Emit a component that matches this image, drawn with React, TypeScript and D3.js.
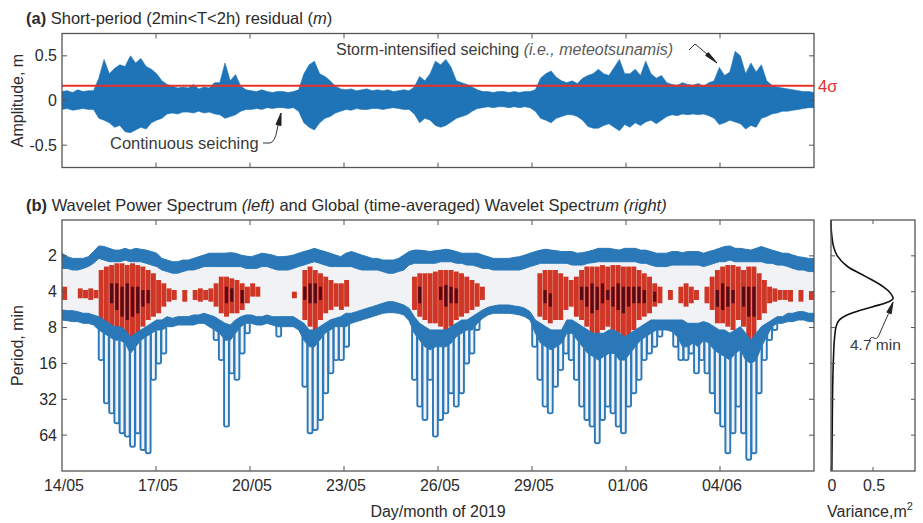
import React from "react";
import * as d3 from "d3";

// ---------- DATA ----------
const DAYS = 24; // 14/05/2019 00:00 -> 07/06/2019 00:00, 4-hour bins (6 per day)
const xTickDays = [0, 3, 6, 9, 12, 15, 18, 21];
const xTickLabels = ["14/05", "17/05", "20/05", "23/05", "26/05", "29/05", "01/06", "04/06"];
const ampTicks = [-0.5, 0, 0.5];
const ampTickLabels = ["-0.5", "0", "0.5"];
const periodTicks = [2, 4, 8, 16, 32, 64];
const varTicks = [0, 0.5];
const varTickLabels = ["0", "0.5"];
const sigma4 = 0.165;

// (a) short-period residual envelope per 4-h bin (m)
const ampMax = [
  0.10, 0.11, 0.09, 0.12, 0.10, 0.11,
  0.11, 0.25, 0.46, 0.30, 0.36, 0.40,
  0.38, 0.50, 0.42, 0.47, 0.38, 0.35,
  0.30, 0.22, 0.18, 0.16, 0.14, 0.15,
  0.14, 0.18, 0.13, 0.15, 0.14, 0.20,
  0.20, 0.42, 0.22, 0.29, 0.16, 0.12,
  0.11, 0.10, 0.12, 0.10, 0.09, 0.10,
  0.10, 0.09, 0.10, 0.12, 0.30, 0.40,
  0.44, 0.30, 0.27, 0.22, 0.16, 0.13,
  0.12, 0.13, 0.11, 0.12, 0.13, 0.11,
  0.12, 0.11, 0.12, 0.10, 0.11, 0.12,
  0.11, 0.15, 0.27, 0.22, 0.30, 0.44,
  0.40, 0.46, 0.37, 0.22, 0.20, 0.18,
  0.15, 0.12, 0.10, 0.10, 0.09, 0.10,
  0.10, 0.09, 0.10, 0.09, 0.10, 0.10,
  0.12, 0.25, 0.30, 0.33, 0.26, 0.22,
  0.20, 0.22, 0.19, 0.25, 0.28, 0.30,
  0.35, 0.30, 0.28, 0.37, 0.46, 0.30,
  0.30, 0.35, 0.28, 0.44, 0.30, 0.25,
  0.28, 0.20, 0.18, 0.17, 0.20, 0.18,
  0.17, 0.19, 0.16, 0.20, 0.22, 0.37,
  0.28, 0.32, 0.55, 0.50, 0.30, 0.42,
  0.32, 0.40, 0.22, 0.17, 0.15, 0.14,
  0.13, 0.12, 0.11, 0.10, 0.10, 0.09,
];
const ampMin = [
  -0.10, -0.09, -0.11, -0.10, -0.09, -0.10,
  -0.10, -0.20, -0.22, -0.25, -0.30, -0.28,
  -0.35, -0.36, -0.33, -0.30, -0.32, -0.25,
  -0.22, -0.20, -0.15, -0.14, -0.15, -0.13,
  -0.13, -0.14, -0.12, -0.14, -0.13, -0.15,
  -0.16, -0.20, -0.18, -0.16, -0.12, -0.10,
  -0.10, -0.09, -0.10, -0.08, -0.09, -0.08,
  -0.08, -0.09, -0.08, -0.12, -0.25, -0.30,
  -0.33, -0.25, -0.20, -0.18, -0.14, -0.12,
  -0.10, -0.11, -0.09, -0.10, -0.10, -0.09,
  -0.09, -0.10, -0.09, -0.08, -0.09, -0.10,
  -0.10, -0.15, -0.25, -0.20, -0.22, -0.28,
  -0.30, -0.28, -0.24, -0.20, -0.18, -0.16,
  -0.12, -0.09, -0.08, -0.07, -0.08, -0.07,
  -0.07, -0.08, -0.07, -0.08, -0.07, -0.08,
  -0.12, -0.20, -0.22, -0.25, -0.20, -0.18,
  -0.16, -0.16, -0.18, -0.22, -0.29, -0.31,
  -0.31, -0.28, -0.26, -0.30, -0.34, -0.27,
  -0.30, -0.25, -0.28, -0.24, -0.22, -0.26,
  -0.22, -0.18, -0.16, -0.17, -0.15, -0.16,
  -0.15, -0.16, -0.15, -0.17, -0.20, -0.27,
  -0.25, -0.22, -0.24, -0.26, -0.32, -0.28,
  -0.30, -0.20, -0.18, -0.15, -0.14, -0.12,
  -0.12, -0.11, -0.10, -0.09, -0.08, -0.08,
];

// (b) wavelet power contours, periods in minutes per 4-h bin
const wTopA = [
  1.90, 2.03, 2.10, 2.10, 2.10, 2.03,
  1.84, 1.65, 1.67, 1.73, 1.79, 1.79,
  1.73, 1.79, 1.73, 1.76, 1.79, 1.84,
  1.90, 2.10, 2.17, 2.24, 2.24, 2.17,
  2.17, 2.10, 2.03, 1.97, 1.90, 1.90,
  1.90, 1.90, 1.88, 1.90, 1.97, 2.01,
  2.03, 1.97, 1.90, 1.93, 1.97, 2.03,
  2.03, 2.01, 1.97, 1.90, 1.84, 1.79,
  1.73, 1.79, 1.84, 1.90, 1.97, 2.03,
  1.90, 1.84, 1.90, 1.97, 2.03, 2.10,
  2.10, 2.17, 2.17, 2.17, 2.10, 1.97,
  1.84, 1.79, 1.79, 1.81, 1.84, 1.81,
  1.79, 1.76, 1.79, 1.84, 1.90, 1.90,
  1.90, 1.90, 1.97, 2.03, 2.10, 2.10,
  2.10, 2.10, 2.06, 2.03, 1.97, 1.90,
  1.84, 1.79, 1.76, 1.79, 1.81, 1.84,
  1.84, 1.84, 1.90, 1.88, 1.84, 1.79,
  1.73, 1.73, 1.73, 1.76, 1.79, 1.73,
  1.73, 1.73, 1.79, 1.79, 1.84, 1.90,
  1.90, 1.90, 1.84, 1.84, 1.88, 1.84,
  1.84, 1.84, 1.90, 1.84, 1.79, 1.73,
  1.67, 1.65, 1.73, 1.73, 1.76, 1.79,
  1.73, 1.67, 1.73, 1.79, 1.84, 1.90,
  1.90, 1.97, 2.03, 2.06, 2.10, 2.10,
];
const wTopB = [
  2.55, 2.55, 2.63, 2.63, 2.55, 2.46,
  2.31, 2.10, 2.17, 2.24, 2.24, 2.24,
  2.17, 2.24, 2.24, 2.24, 2.31, 2.39,
  2.46, 2.63, 2.71, 2.80, 2.80, 2.71,
  2.63, 2.63, 2.55, 2.46, 2.46, 2.46,
  2.46, 2.46, 2.46, 2.46, 2.46, 2.55,
  2.55, 2.55, 2.46, 2.46, 2.55, 2.63,
  2.63, 2.63, 2.55, 2.46, 2.39, 2.31,
  2.24, 2.31, 2.39, 2.46, 2.46, 2.46,
  2.46, 2.46, 2.55, 2.63, 2.63, 2.63,
  2.63, 2.71, 2.80, 2.80, 2.71, 2.63,
  2.39, 2.31, 2.31, 2.31, 2.31, 2.31,
  2.24, 2.24, 2.24, 2.31, 2.31, 2.39,
  2.39, 2.46, 2.55, 2.55, 2.63, 2.63,
  2.63, 2.63, 2.63, 2.63, 2.55, 2.46,
  2.39, 2.31, 2.31, 2.31, 2.31, 2.31,
  2.31, 2.39, 2.39, 2.39, 2.31, 2.28,
  2.24, 2.24, 2.24, 2.24, 2.24, 2.24,
  2.24, 2.24, 2.31, 2.31, 2.39, 2.46,
  2.46, 2.46, 2.39, 2.39, 2.39, 2.39,
  2.39, 2.39, 2.46, 2.39, 2.31, 2.24,
  2.24, 2.17, 2.24, 2.24, 2.24, 2.24,
  2.24, 2.24, 2.31, 2.31, 2.39, 2.39,
  2.46, 2.55, 2.63, 2.63, 2.71, 2.71,
];
const wBotA = [
  5.69, 5.77, 5.77, 5.88, 6.07, 6.07,
  6.27, 6.48, 6.91, 7.37, 7.86, 7.86,
  8.38, 9.53, 8.94, 8.38, 7.86, 7.37,
  6.91, 6.91, 6.48, 6.69, 6.48, 6.48,
  6.48, 6.27, 6.27, 6.07, 6.27, 6.48,
  6.91, 7.37, 7.61, 6.91, 6.48, 6.27,
  6.27, 6.48, 6.48, 6.27, 6.48, 6.48,
  6.48, 6.48, 6.48, 6.91, 7.37, 8.38,
  8.38, 7.86, 7.37, 6.91, 6.69, 6.48,
  6.07, 6.07, 5.88, 5.69, 5.51, 5.34,
  5.17, 5.00, 4.85, 4.85, 5.00, 5.17,
  5.51, 6.48, 7.37, 7.86, 8.38, 8.38,
  8.38, 8.38, 7.86, 7.37, 6.91, 6.91,
  6.48, 6.07, 5.69, 5.41, 5.27, 5.17,
  5.17, 5.17, 5.27, 5.34, 5.51, 5.88,
  6.91, 7.37, 7.86, 8.38, 8.38, 8.38,
  6.91, 6.91, 7.37, 7.86, 8.38, 8.94,
  8.94, 8.94, 8.38, 8.38, 8.94, 9.53,
  8.94, 8.38, 7.86, 7.37, 6.91, 6.91,
  6.91, 6.91, 6.91, 6.91, 6.91, 7.37,
  7.37, 7.37, 7.13, 7.37, 7.86, 8.38,
  8.38, 8.94, 8.38, 7.86, 8.94, 10.2,
  8.94, 7.86, 7.37, 6.91, 6.48, 6.48,
  6.07, 6.07, 5.88, 5.88, 6.07, 6.07,
];
const wBotB = [
  6.91, 7.00, 7.13, 7.13, 7.37, 7.37,
  7.61, 8.38, 8.94, 9.53, 10.2, 10.2,
  10.8, 13.2, 11.6, 10.2, 9.53, 8.94,
  8.38, 8.38, 7.86, 7.86, 7.61, 7.61,
  7.61, 7.61, 7.37, 7.37, 7.86, 8.38,
  8.94, 10.2, 10.2, 8.94, 7.86, 7.37,
  7.37, 7.61, 7.61, 7.37, 7.61, 7.86,
  7.86, 7.86, 7.86, 8.38, 10.2, 11.6,
  11.6, 10.2, 8.94, 8.38, 7.86, 7.86,
  7.86, 7.37, 7.13, 6.91, 6.69, 6.48,
  6.27, 6.07, 6.00, 6.00, 6.07, 6.27,
  7.00, 8.94, 10.2, 11.6, 12.3, 11.6,
  11.6, 11.6, 10.8, 9.53, 8.94, 8.38,
  8.38, 7.37, 6.69, 6.27, 6.07, 6.07,
  6.07, 6.07, 6.15, 6.27, 6.48, 6.91,
  8.94, 10.8, 11.6, 12.3, 11.6, 10.8,
  8.94, 8.94, 10.2, 11.6, 13.2, 14.0,
  15.0, 14.0, 13.2, 13.2, 15.0, 15.0,
  13.2, 11.6, 10.2, 9.53, 8.94, 8.38,
  8.38, 8.38, 8.65, 9.53, 11.6, 11.6,
  10.8, 11.6, 10.2, 10.8, 12.3, 13.2,
  14.0, 15.0, 13.2, 12.3, 15.0, 16.0,
  15.0, 11.6, 9.53, 7.86, 7.37, 7.37,
  7.13, 7.13, 6.91, 6.91, 7.13, 7.13,
];
const wDeep = [
  6.91, 7.00, 7.13, 7.13, 7.37, 7.37,
  7.86, 15.0, 34.6, 42.0, 50.9, 61.7,
  65.9, 80.0, 61.7, 85.2, 90.7, 22.0,
  16.0, 13.2, 8.38, 7.86, 7.61, 7.61,
  7.61, 7.61, 7.37, 7.37, 7.86, 10.2,
  15.0, 54.3, 19.4, 22.0, 13.2, 8.94,
  7.37, 7.61, 7.61, 7.37, 7.61, 9.53,
  8.38, 7.86, 7.86, 8.94, 25.1, 61.7,
  57.9, 47.7, 28.5, 19.4, 15.0, 15.0,
  11.6, 7.37, 7.13, 6.91, 6.69, 6.48,
  6.27, 6.07, 6.00, 6.00, 6.07, 6.27,
  7.00, 22.0, 36.9, 47.7, 22.0, 65.9,
  47.7, 42.0, 28.5, 36.9, 28.5, 16.0,
  13.2, 8.38, 6.69, 6.27, 6.07, 6.07,
  6.07, 6.07, 6.15, 6.27, 6.48, 7.37,
  11.6, 22.0, 36.9, 42.0, 25.1, 18.2,
  13.2, 15.0, 22.0, 36.9, 47.7, 54.3,
  74.9, 47.7, 36.9, 42.0, 54.3, 61.7,
  36.9, 28.5, 22.0, 15.0, 13.2, 11.6,
  9.53, 8.94, 9.23, 11.6, 15.0, 15.0,
  13.2, 19.4, 15.0, 19.4, 28.5, 42.0,
  54.3, 90.7, 61.7, 36.9, 61.7, 103,
  90.7, 28.5, 15.0, 10.2, 8.38, 7.86,
  7.13, 7.13, 6.91, 6.91, 7.13, 7.13,
];
type Band = [number, number] | null;
const redBand: Band[] = [
  [3.63, 4.69], null, null, [3.75, 4.54], [3.87, 4.54], [3.75, 4.69],
  [3.87, 4.54], [2.63, 6.91], [2.46, 7.37], [2.39, 7.86], [2.31, 8.38], [2.31, 8.94],
  [2.39, 10.8], [2.31, 10.2], [2.39, 8.94], [2.46, 7.86], [2.63, 6.91], [2.80, 6.48],
  [3.19, 6.07], [3.40, 5.34], [3.75, 4.85], [3.87, 4.69], null, [3.87, 4.85],
  null, [3.87, 4.69], [3.75, 4.85], [3.87, 4.69], [3.75, 4.85], [3.40, 5.34],
  [2.99, 6.07], [2.99, 6.48], [3.09, 6.07], [3.19, 6.07], [3.40, 5.69], [3.63, 5.00],
  [3.40, 4.40], [3.63, 4.40], null, null, null, null,
  null, null, [4.00, 4.54], null, [2.63, 6.91], [2.46, 7.86],
  [2.63, 8.38], [2.80, 6.91], [2.99, 6.07], [3.19, 5.69], [3.40, 5.34], [3.40, 5.69],
  [3.19, 5.34], null, null, null, null, null,
  null, null, null, null, null, null,
  null, [2.99, 5.69], [2.80, 6.48], [2.80, 6.91], [2.80, 7.37], [2.71, 7.37],
  [2.63, 7.86], [2.63, 8.38], [2.63, 7.86], [2.71, 6.91], [2.80, 6.48], [2.99, 6.07],
  [3.19, 5.69], [3.40, 5.34], [3.63, 4.69], null, null, null,
  null, null, null, null, null, null,
  null, [2.80, 6.48], [2.63, 6.91], [2.63, 7.37], [2.63, 6.91], [2.80, 6.91],
  [2.99, 5.69], [3.19, 5.34], [2.99, 6.48], [2.63, 6.91], [2.46, 7.86], [2.46, 8.94],
  [2.46, 9.53], [2.39, 8.38], [2.46, 7.86], [2.39, 8.38], [2.39, 8.94], [2.46, 12.3],
  [2.46, 11.6], [2.46, 8.38], [2.63, 6.91], [2.80, 6.48], [2.99, 6.07], [3.40, 5.34],
  [3.63, 5.00], null, [3.87, 4.69], null, [3.63, 5.00], [3.40, 5.34],
  [3.63, 5.00], [3.87, 4.69], null, [3.63, 5.00], [2.99, 5.69], [2.63, 7.37],
  [2.46, 7.37], [2.39, 7.86], [2.39, 8.38], [2.46, 6.91], [2.63, 7.86], [2.46, 11.6],
  [2.46, 12.3], [2.80, 6.91], [3.19, 6.07], [3.63, 5.00], [3.75, 4.85], [3.87, 4.69],
  [3.87, 4.69], [3.87, 4.85], null, [3.87, 4.85], null, [4.00, 4.69],
];
const darkBand: Band[] = [
  null, null, null, null, null, null,
  null, null, null, [3.40, 5.00], [3.40, 5.69], [3.63, 6.48],
  [3.40, 6.91], [3.63, 6.48], [3.63, 6.07], [3.87, 5.34], [3.87, 5.00], null,
  null, null, null, null, null, null,
  null, null, null, null, null, null,
  null, [3.63, 5.00], [3.75, 4.85], null, [3.87, 5.00], null,
  null, null, null, null, null, null,
  null, null, null, null, [3.63, 4.69], [3.40, 5.00],
  [3.40, 5.00], [3.63, 4.69], null, null, null, null,
  null, null, null, null, null, null,
  null, null, null, null, null, null,
  null, null, [3.63, 5.00], null, null, null,
  [3.63, 4.69], [3.51, 5.34], [3.63, 5.00], [3.75, 5.00], null, null,
  null, null, null, null, null, null,
  null, null, null, null, null, null,
  null, null, [3.87, 5.00], [4.13, 5.34], null, null,
  null, null, null, [3.63, 4.69], [3.63, 5.34], [3.40, 6.07],
  [3.63, 5.69], [3.40, 5.00], [3.87, 4.69], [3.63, 5.34], [3.40, 5.69], [3.63, 6.07],
  [3.63, 5.34], [3.63, 5.00], [3.63, 5.00], [3.87, 5.00], null, [4.00, 4.85],
  null, null, null, null, null, null,
  null, null, null, null, null, [3.87, 5.34],
  [3.40, 5.69], [3.63, 5.34], [3.87, 5.00], null, [3.63, 5.34], [3.63, 6.48],
  [3.63, 6.48], null, null, null, null, null,
  null, null, null, null, null, null,
];

// Global (time-averaged) wavelet spectrum
const gwsPeriod = [1.0, 1.2, 1.4, 1.67, 2.0, 2.47, 3.0, 3.63, 4.13, 4.54, 5.0, 5.34, 5.69, 6.27, 6.9, 7.86, 10.2, 14, 25, 50, 128];
const gwsVariance = [0.0, 0.003, 0.012, 0.03, 0.075, 0.2, 0.42, 0.62, 0.71, 0.74, 0.64, 0.5, 0.36, 0.19, 0.1, 0.06, 0.04, 0.03, 0.02, 0.015, 0.01];

// ---------- STYLE ----------
const FONT = "'Liberation Sans', Arial, Helvetica, sans-serif";
const BLUE = "#1f74b7";
const WBLUE = "#2a78b8";
const LIGHT = "#f1f2f5";
const RED = "#cf3626";
const DARK = "#5a0a14";
const AXIS = "#555";
const TXT = "#2b2b2b";

export default function App() {
  const n = ampMax.length;
  const binW = 1 / 6;
  const x = d3.scaleLinear().domain([0, DAYS]).range([62, 814]);
  const yA = d3.scaleLinear().domain([-0.75, 0.75]).range([167.5, 33.5]);
  const yP = d3.scaleLog().base(2).domain([1, 128]).range([220, 471]);
  const xV = d3.scaleLinear().domain([0, 1]).range([831, 915]);
  const tOf = (i: number) => (i * DAYS) / (n - 1);
  const idx = d3.range(n);

  const sig = d3.area<number>()
    .x((i) => x(tOf(i)))
    .y0((i) => yA(ampMin[i]))
    .y1((i) => yA(ampMax[i]))(idx) as string;

  const bandArea = (top: number[], bot: number[]) =>
    d3.area<number>()
      .x((i) => x(tOf(i)))
      .y0((i) => yP(top[i]))
      .y1((i) => yP(bot[i]))(idx) as string;

  const gwsLine = d3.line<number>()
    .x((i) => xV(gwsVariance[i]))
    .y((i) => yP(gwsPeriod[i]))
    .curve(d3.curveMonotoneY)(d3.range(gwsPeriod.length)) as string;

  const tick = 5;
  const topBox = { x0: 62, x1: 814, y0: 33.5, y1: 167.5 };
  const botBox = { x0: 62, x1: 814, y0: 220, y1: 471 };
  const gBox = { x0: 831, x1: 915, y0: 220, y1: 471 };

  const txt = { fontFamily: FONT, fill: TXT };

  const fingerIdx = idx.filter((i) => wDeep[i] > wBotB[i] * 1.08);

  return (
    <svg width={923} height={523} style={{ position: "absolute", left: 0, top: 0, background: "#fff" }}>
      <rect x={0} y={0} width={923} height={523} fill="#fff" />
      <defs>
        <clipPath id="clipTop"><rect x={topBox.x0} y={topBox.y0} width={topBox.x1 - topBox.x0} height={topBox.y1 - topBox.y0} /></clipPath>
        <clipPath id="clipBot"><rect x={botBox.x0} y={botBox.y0} width={botBox.x1 - botBox.x0} height={botBox.y1 - botBox.y0} /></clipPath>
      </defs>

      {/* ---------- Panel (a) ---------- */}
      <text x={26} y={24} fontSize={16.5} {...txt}>
        <tspan fontWeight="bold">(a)</tspan>
        <tspan> Short-period (2min&lt;T&lt;2h) residual (</tspan>
        <tspan fontStyle="italic">m</tspan>
        <tspan>)</tspan>
      </text>
      <g clipPath="url(#clipTop)">
        <path d={sig} fill={BLUE} stroke={BLUE} strokeWidth={0.6} />
        <line x1={topBox.x0} x2={topBox.x1} y1={yA(sigma4)} y2={yA(sigma4)} stroke="#e8302a" strokeWidth={1.8} />
      </g>
      <rect x={topBox.x0} y={topBox.y0} width={topBox.x1 - topBox.x0} height={topBox.y1 - topBox.y0} fill="none" stroke={AXIS} strokeWidth={1.3} />
      {xTickDays.slice(1).map((d) => (
        <g key={"ta" + d} stroke={AXIS} strokeWidth={1}>
          <line x1={x(d)} x2={x(d)} y1={topBox.y0} y2={topBox.y0 + tick} />
          <line x1={x(d)} x2={x(d)} y1={topBox.y1} y2={topBox.y1 - tick} />
        </g>
      ))}
      {ampTicks.map((v, i) => (
        <g key={"ya" + v}>
          <line x1={topBox.x0} x2={topBox.x0 + tick} y1={yA(v)} y2={yA(v)} stroke={AXIS} />
          <line x1={topBox.x1} x2={topBox.x1 - tick} y1={yA(v)} y2={yA(v)} stroke={AXIS} />
          <text x={57} y={yA(v) + 5.5} fontSize={16} textAnchor="end" {...txt}>{ampTickLabels[i]}</text>
        </g>
      ))}
      <text transform={`translate(23,${(topBox.y0 + topBox.y1) / 2}) rotate(-90)`} fontSize={16} textAnchor="middle" {...txt}>Amplitude, m</text>
      <text x={818} y={92} fontSize={16.5} fill="#e0302a" fontFamily={FONT}>4σ</text>

      {/* annotations (a) */}
      <text x={336} y={55} fontSize={16} fontFamily={FONT} fill="#3a3a3a">
        Storm-intensified seiching <tspan fontStyle="italic" fill="#5a5a5a">(i.e., meteotsunamis)</tspan>
      </text>
      <path d="M689,50 L695,44 L707,54" fill="none" stroke="#333" strokeWidth={1} />
      <polygon points="717,63 705.6,55.4 708.4,52.6" fill="#222" stroke="#222" strokeWidth={1} />
      <text x={110} y={149} fontSize={16.5} fontFamily={FONT} fill="#3a3a3a">Continuous seiching</text>
      <path d="M263,143 L270,143 Q275,142 277,130 L278.3,124.5" fill="none" stroke="#333" strokeWidth={1} />
      <polygon points="281,113 276,124.5 281,125.5" fill="#222" stroke="#222" strokeWidth={1} />

      {/* ---------- Panel (b) ---------- */}
      <text x={26} y={211} fontSize={16.5} {...txt}>
        <tspan fontWeight="bold">(b)</tspan>
        <tspan> Wavelet Power Spectrum </tspan>
        <tspan fontStyle="italic">(left)</tspan>
        <tspan> and Global (time-averaged) Wavelet Spectr</tspan>
        <tspan fontStyle="italic">um (right)</tspan>
      </text>
      <g clipPath="url(#clipBot)">
        {fingerIdx.map((i) => {
          const x0 = x(i * binW);
          const x1 = x((i + 1) * binW);
          const yt = yP(wBotA[i]);
          const yd = yP(wDeep[i]);
          return (
            <rect
              key={"f" + i}
              x={x0 + 0.2}
              y={yt}
              width={x1 - x0 - 0.4}
              height={yd - yt}
              rx={1.8}
              fill={LIGHT}
              stroke={WBLUE}
              strokeWidth={1.9}
            />
          );
        })}
        <path d={bandArea(wTopA, wBotB)} fill={LIGHT} />
        {idx.map((i) => {
          const b = redBand[i];
          return b ? (
            <rect key={"r" + i} x={x(i * binW) + 0.15} width={x((i + 1) * binW) - x(i * binW) - 0.3} y={yP(b[0])} height={yP(b[1]) - yP(b[0])} fill={RED} />
          ) : null;
        })}
        {idx.map((i) => {
          const b = darkBand[i];
          return b ? (
            <rect key={"k" + i} x={x(i * binW) + 1} width={x((i + 1) * binW) - x(i * binW) - 2} y={yP(b[0])} height={yP(b[1]) - yP(b[0])} fill={DARK} />
          ) : null;
        })}
        <path d={bandArea(wTopA, wTopB)} fill={WBLUE} stroke={WBLUE} strokeWidth={1} />
        <path d={bandArea(wBotA, wBotB)} fill={WBLUE} stroke={WBLUE} strokeWidth={1} />
      </g>
      <rect x={botBox.x0} y={botBox.y0} width={botBox.x1 - botBox.x0} height={botBox.y1 - botBox.y0} fill="none" stroke={AXIS} strokeWidth={1.3} />
      {xTickDays.map((d, i) => (
        <g key={"tb" + d}>
          {i > 0 && <line x1={x(d)} x2={x(d)} y1={botBox.y0} y2={botBox.y0 + tick} stroke={AXIS} />}
          {i > 0 && <line x1={x(d)} x2={x(d)} y1={botBox.y1} y2={botBox.y1 - tick} stroke={AXIS} />}
          <text x={x(d) + 2} y={491} fontSize={16} textAnchor="middle" {...txt}>{xTickLabels[i]}</text>
        </g>
      ))}
      {periodTicks.map((p) => (
        <g key={"yp" + p}>
          <line x1={botBox.x0} x2={botBox.x0 + tick} y1={yP(p)} y2={yP(p)} stroke={AXIS} />
          <line x1={botBox.x1} x2={botBox.x1 - tick} y1={yP(p)} y2={yP(p)} stroke={AXIS} />
          <text x={57} y={yP(p) + 5.5} fontSize={16} textAnchor="end" {...txt}>{p}</text>
        </g>
      ))}
      <text transform={`translate(23,${(botBox.y0 + botBox.y1) / 2}) rotate(-90)`} fontSize={16} textAnchor="middle" {...txt}>Period, min</text>
      <text x={(botBox.x0 + botBox.x1) / 2} y={517} fontSize={16} textAnchor="middle" {...txt}>Day/month of 2019</text>

      {/* ---------- Global spectrum ---------- */}
      <path d={gwsLine} fill="none" stroke="#111" strokeWidth={1.6} />
      <rect x={gBox.x0} y={gBox.y0} width={gBox.x1 - gBox.x0} height={gBox.y1 - gBox.y0} fill="none" stroke={AXIS} strokeWidth={1.3} />
      {periodTicks.map((p) => (
        <g key={"gp" + p}>
          <line x1={gBox.x0} x2={gBox.x0 + 4} y1={yP(p)} y2={yP(p)} stroke={AXIS} />
          <line x1={gBox.x1} x2={gBox.x1 - 4} y1={yP(p)} y2={yP(p)} stroke={AXIS} />
        </g>
      ))}
      {varTicks.map((v, i) => (
        <g key={"gv" + v}>
          <line x1={xV(v)} x2={xV(v)} y1={gBox.y0} y2={gBox.y0 + 4} stroke={AXIS} />
          <line x1={xV(v)} x2={xV(v)} y1={gBox.y1} y2={gBox.y1 - 4} stroke={AXIS} />
          <text x={xV(v) + 1} y={491} fontSize={16} textAnchor="middle" {...txt}>{varTickLabels[i]}</text>
        </g>
      ))}
      <text x={827} y={517} fontSize={16} {...txt}>
        Variance,m<tspan dy={-7} fontSize={11}>2</tspan>
      </text>
      <text x={850} y={350} fontSize={15.5} fontFamily={FONT} fill="#3a3a3a">4.7 min</text>
      <path d="M869,341 q2,-5 5,-3 q3,2 5,-3 L888.5,313.5" fill="none" stroke="#333" strokeWidth={1} />
      <polygon points="893,302 886.8,312.2 891.2,313.8" fill="#222" stroke="#222" strokeWidth={1} />
    </svg>
  );
}
